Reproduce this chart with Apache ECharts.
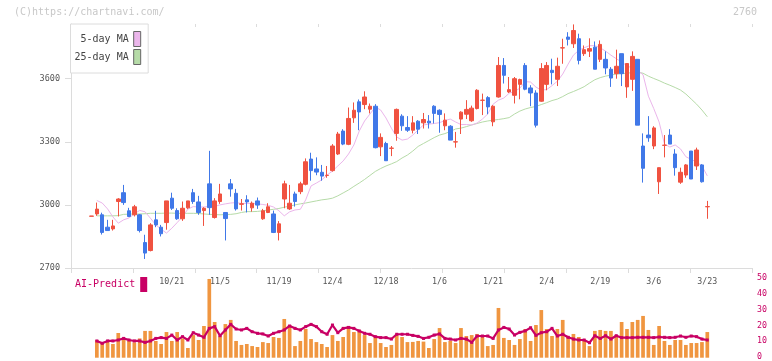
<!DOCTYPE html>
<html>
<head>
<meta charset="utf-8">
<script src="https://cdn.jsdelivr.net/npm/echarts@6/dist/echarts.min.js"></script>
<style>
html,body{margin:0;padding:0;background:#fff;}
#chart{width:772px;height:361px;}
</style>
</head>
<body>
<div id="chart"></div>
<script>
// ---- data (one value per trading day) ----
const opens = [2946,2957,2953,2894,2886,3016,3058,2972,2953,2953, 2821,2783,2929,2894,2916,3032,2973,2934,2986,3058, 3014,2973,3100,2940,3016,2964,3100,3055,3003,3024, 2986,3019,2934,2964,2957,2869,3028,2981,3052,3063, 3098,3218,3171,3155,3140,3163,3242,3351,3288,3414, 3490,3477,3455,3469,3276,3292,3269,3340,3422,3368, 3355,3398,3390,3398,3469,3450,3376,3374,3299,3408, 3431,3400,3458,3497,3510,3395,3513,3663,3537,3521, 3573,3663,3556,3532,3493,3573,3640,3597,3746,3798, 3766,3790,3719,3731,3750,3692,3692,3645,3624,3719, 3561,3597,3692,3280,3332,3280,3110,3283,3332,3242, 3108,3142,3256,3185,3190,2991];
const closes = [2947,2980,2869,2878,2900,3028,3011,2945,2991,2878, 2771,2905,2905,2863,3019,2984,2934,2984,3019,3016, 2964,2984,2987,3019,3052,2935,3076,2981,3005,3014, 3008,2999,2972,2991,2869,2910,3100,3008,3016,3100, 3205,3163,3156,3137,3141,3280,3337,3289,3411,3450, 3442,3513,3469,3272,3321,3210,3270,3454,3376,3355, 3390,3360,3406,3390,3435,3430,3403,3308,3300,3441, 3454,3460,3545,3498,3466,3469,3663,3616,3548,3600, 3596,3550,3532,3379,3648,3663,3629,3659,3747,3787, 3829,3687,3738,3743,3645,3763,3651,3603,3659,3624, 3672,3706,3379,3174,3319,3366,3177,3284,3289,3177, 3155,3190,3123,3261,3110,2992];
const lows = [2946,2948,2859,2878,2878,2945,3000,2942,2945,2869, 2743,2779,2894,2850,2882,2976,2929,2924,2981,3005, 2953,2900,2953,2935,3005,2831,3039,2973,2973,2964, 2968,2981,2929,2961,2866,2831,2984,2976,2992,3051, 3093,3115,3141,3115,3129,3158,3237,3284,3284,3390, 3355,3455,3435,3269,3232,3210,3232,3305,3352,3347, 3340,3337,3363,3363,3387,3343,3355,3308,3272,3337, 3408,3395,3454,3427,3431,3374,3510,3577,3532,3482, 3502,3545,3469,3368,3490,3545,3573,3565,3671,3758, 3746,3668,3708,3703,3645,3679,3621,3561,3600,3565, 3509,3542,3379,3106,3300,3265,3052,3226,3289,3139, 3100,3129,3123,3166,3106,2934];
const highs = [2947,3011,2963,2929,2929,3032,3095,2986,3000,2957, 2858,2913,2972,2905,3019,3058,2984,3016,3019,3076, 3043,2989,3257,3032,3100,2964,3123,3076,3028,3046, 3016,3035,2981,3008,2973,2923,3115,3095,3063,3110, 3221,3248,3226,3190,3185,3289,3347,3360,3463,3487, 3501,3540,3482,3479,3340,3300,3280,3458,3431,3422, 3422,3403,3437,3427,3474,3454,3435,3379,3347,3445, 3498,3472,3550,3529,3517,3474,3703,3698,3608,3608, 3600,3674,3569,3545,3674,3679,3695,3700,3790,3821, 3858,3814,3758,3792,3777,3782,3730,3655,3738,3719, 3672,3730,3692,3340,3422,3374,3177,3332,3360,3265, 3177,3194,3256,3272,3194,3019];
const ma5 = ['-',3021,3009,2981,2943,2913,2929,2938,2957,2974, 2967,2937,2905,2885,2866,2889,2916,2944,2980,2992, 2990,2990,2993,2993,3000,3005,3009,3011,3007,3007, 3007,3005,3002,2998,2990,2972,2948,2967,2976,2979, 3024,3090,3104,3119,3142,3161,3185,3209,3242,3285, 3351,3399,3432,3465,3451,3413,3365,3323,3308,3313, 3332,3356,3380,3384,3387,3391,3401,3408,3394,3382, 3382,3380,3389,3408,3432,3479,3498,3508,3531,3539, 3555,3586,3584,3560,3546,3548,3567,3588,3622,3669, 3712,3735,3747,3757,3757,3747,3731,3712,3695,3679, 3662,3649,3638,3619,3517,3458,3394,3290,3275,3285, 3266,3229,3216,3204,3185,3138];
const ma25 = ['-',2948,2948,2948,2948,2949,2955,2956,2957,2957, 2958,2960,2960,2960,2961,2961,2960,2960,2960,2960, 2959,2957,2955,2954,2953,2954,2955,2958,2964,2968, 2968,2969,2972,2976,2979,2983,2989,2994,3000,3005, 3009,3014,3019,3024,3027,3032,3043,3057,3071,3088, 3104,3121,3140,3159,3173,3185,3195,3206,3223,3237, 3256,3278,3292,3306,3320,3332,3339,3349,3361,3365, 3372,3380,3387,3394,3399,3403,3406,3410,3415,3432, 3446,3456,3463,3468,3477,3486,3496,3503,3515,3529, 3539,3550,3562,3579,3595,3605,3612,3617,3622,3624, 3626,3629,3631,3626,3612,3601,3591,3579,3569,3558, 3546,3527,3503,3479,3451,3419];
const volumes = ['-',11.1,9.6,10.1,8.6,15.5,11.7,10.5,9.6,12.1, 16.8,16.8,10.5,8.6,16.1,10.5,16.1,12.1,6.1,14.2, 11.1,19.9,49.4,22.4,13.6,21.1,23.7,10.5,8.0,8.6, 7.3,6.7,9.8,9.2,13.0,12.4,24.3,20.5,7.3,10.5, 18.0,11.7,9.8,8.6,6.7,14.2,10.5,13.0,19.9,16.1, 17.4,14.2,9.2,13.0,9.2,6.7,8.0,14.2,13.0,9.8, 9.9,10.5,10.1,6.1,11.7,18.6,9.8,10.5,9.2,18.6, 13.6,14.2,14.9,13.6,7.3,8.0,31.2,12.4,11.1,8.0, 11.7,18.0,10.5,20.5,29.9,18.0,13.6,18.0,23.7,13.6, 14.9,13.0,11.1,7.3,16.8,17.4,16.8,16.8,14.2,22.4, 18.0,22.4,23.7,26.2,17.4,8.0,19.9,10.5,8.0,11.1, 11.1,8.0,9.2,9.2,9.8,16.1];
const aiPredict = ['-',10.5,9.0,10.5,10.5,11.1,12.1,11.1,10.5,10.5, 9.6,10.5,12.1,12.6,12.1,14.2,11.1,13.2,11.1,15.7, 14.2,12.8,18.4,19.5,13.8,17.4,20.9,18.0,17.4,18.4, 16.3,15.3,14.9,13.6,15.3,16.3,17.4,19.9,18.4,17.4, 19.5,20.9,19.5,16.3,14.7,20.5,15.7,18.4,19.0,18.4, 16.8,15.3,14.7,13.2,12.6,12.6,11.7,14.7,14.7,14.7, 14.0,13.4,12.1,12.8,14.2,14.9,12.1,11.7,11.1,12.1, 11.7,9.6,13.6,13.6,13.6,12.1,17.4,19.0,18.0,14.2, 15.9,16.8,18.8,14.0,15.7,16.3,18.4,13.6,14.7,12.8, 11.7,11.1,11.1,9.4,13.8,12.1,13.8,11.7,13.8,12.6, 12.6,12.6,12.8,12.8,12.8,12.6,13.0,12.8,12.6,12.8, 13.6,12.8,13.6,13.2,11.7,11.1];
const tickLabels = ['10/21','11/5','11/19','12/4','12/18','1/6','1/21','2/4','2/19','3/6','3/23'];
const tickDays = [15,24,35,45,55,65,75,85,95,105,115];
const priceTicks = [2700,3000,3300,3600];

// ---- build ----
const categories = opens.map((_, i) => String(i));
const candles = opens.map((o, i) => [o, closes[i], lows[i], highs[i]]);
const MONO = "'DejaVu Sans Mono', 'Liberation Mono', monospace";
const RED = '#f05240', BLUE = '#4078e8', ORANGE = '#f09640', MAG = '#c80064';
const PINK = '#ebb6eb', GREEN = '#b6dba8';

const chart = echarts.init(document.getElementById('chart'), null, {renderer: 'canvas'});
chart.setOption({
  animation: false,
  backgroundColor: '#fff',
  title: [
    {text: '(C)https://chartnavi.com/', left: 14, top: 7, padding: 0,
     textStyle: {fontFamily: MONO, fontSize: 10, fontWeight: 'normal', color: '#c8c8c8'}},
    {text: '2760', right: 15, top: 7, padding: 0,
     textStyle: {fontFamily: MONO, fontSize: 10, fontWeight: 'normal', color: '#c8c8c8'}}
  ],
  legend: [
    {orient: 'vertical', align: 'right', left: 70.5, top: 24, padding: [7, 7, 8, 4],
     itemWidth: 7, itemHeight: 15, itemGap: 2, icon: 'rect',
     backgroundColor: '#fff', borderColor: '#dcdcdc', borderWidth: 1,
     itemStyle: {borderColor: '#666', borderWidth: 1},
     textStyle: {fontFamily: MONO, fontSize: 10, color: '#444'},
     data: ['5-day MA', '25-day MA'], selectedMode: false},
    {orient: 'horizontal', align: 'right', left: 75, top: 277, padding: 0,
     itemWidth: 7, itemHeight: 15, icon: 'rect',
     textStyle: {fontFamily: MONO, fontSize: 10, color: MAG},
     data: ['AI-Predict'], selectedMode: false}
  ],
  grid: [
    {left: 71, right: 20, top: 24, bottom: 93},
    {left: 88.82, right: 62.02, top: 24, bottom: 93},
    {left: 88.82, right: 62.02, top: 278, bottom: 3.3},
    {left: 71, right: 20, top: 278, bottom: 3.3}
  ],
  xAxis: [
    {gridIndex: 0, type: 'value', min: 0, max: 11, interval: 1,
     axisLine: {show: true, lineStyle: {color: '#dcdcdc'}},
     axisTick: {show: true, length: 5, lineStyle: {color: '#dcdcdc'}},
     axisLabel: {show: false}, splitLine: {show: false}},
    {gridIndex: 0, type: 'value', min: 0, max: 11, interval: 1,
     axisLine: {show: false},
     axisTick: {show: true, inside: true, length: 3, lineStyle: {color: '#dcdcdc'}},
     axisLabel: {show: false}, splitLine: {show: false}},
    {gridIndex: 1, type: 'category', data: categories, boundaryGap: true,
     axisLine: {show: false}, axisTick: {show: false}, splitLine: {show: false},
     axisLabel: {show: true, margin: 10, fontFamily: MONO, fontSize: 8.3, color: '#555',
       interval: (idx) => tickDays.indexOf(idx) >= 0,
       formatter: (v) => { const k = tickDays.indexOf(+v); return k >= 0 ? tickLabels[k] : ''; }}},
    {gridIndex: 2, type: 'category', data: categories, boundaryGap: true, show: false},
    {gridIndex: 3, type: 'value', show: false, min: 0, max: 1}
  ],
  yAxis: [
    {gridIndex: 0, type: 'value', min: 2700, max: 3860, interval: 300,
     axisLine: {show: true, lineStyle: {color: '#dcdcdc'}},
     axisTick: {show: true, length: 6, lineStyle: {color: '#dcdcdc'}, customValues: priceTicks},
     axisLabel: {margin: 11, fontFamily: MONO, fontSize: 8.5, color: '#555', customValues: priceTicks,
       formatter: (v) => String(v)},
     splitLine: {show: false}},
    {gridIndex: 1, type: 'value', min: 2700, max: 3860, show: false, splitLine: {show: false}},
    {gridIndex: 2, type: 'value', min: 0, max: 50, show: false, splitLine: {show: false}},
    {gridIndex: 3, type: 'value', position: 'right', min: 0, max: 50, interval: 10,
     axisLine: {show: false}, axisTick: {show: false}, splitLine: {show: false},
     axisLabel: {margin: 5, fontFamily: MONO, fontSize: 8.3, color: MAG, formatter: (v) => String(v)}}
  ],
  series: [
    {name: '25-day MA', type: 'line', xAxisIndex: 2, yAxisIndex: 1, data: ma25,
     symbol: 'none', color: GREEN, lineStyle: {width: 1, color: GREEN}, z: 1},
    {name: '5-day MA', type: 'line', xAxisIndex: 2, yAxisIndex: 1, data: ma5,
     symbol: 'none', color: PINK, lineStyle: {width: 1, color: PINK}, z: 1},
    {name: 'price', type: 'candlestick', xAxisIndex: 2, yAxisIndex: 1, data: candles,
     barWidth: 4, z: 3,
     itemStyle: {color: RED, color0: BLUE, borderColor: RED, borderColor0: BLUE, borderWidth: 1}},
    {name: 'volume', type: 'bar', xAxisIndex: 3, yAxisIndex: 2, data: volumes,
     barWidth: 3.7, itemStyle: {color: ORANGE}, z: 2},
    {name: 'AI-Predict', type: 'line', xAxisIndex: 3, yAxisIndex: 2, data: aiPredict,
     color: MAG, lineStyle: {width: 2.2, color: MAG}, symbol: 'rect', symbolSize: 3,
     itemStyle: {color: MAG}, z: 4}
  ]
});
</script>
</body>
</html>
